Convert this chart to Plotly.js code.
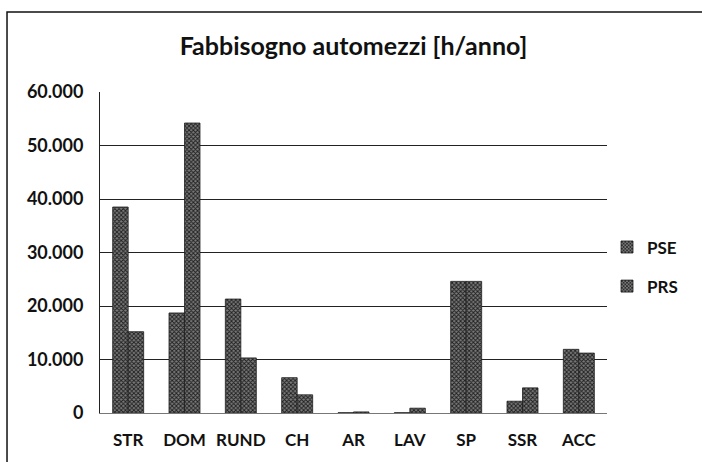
<!DOCTYPE html>
<html>
<head>
<meta charset="utf-8">
<script src="https://cdn.plot.ly/plotly-3.0.1.min.js"></script>
<style>
  html, body { margin: 0; padding: 0; background: #ffffff; }
  #chart { width: 702px; height: 462px; }
</style>
</head>
<body>
<div id="chart"></div>
<script>
const categories = ["STR", "DOM", "RUND", "CH", "AR", "LAV", "SP", "SSR", "ACC"];
const pseValues = [38500, 18700, 21300, 6600, 50, 50, 24600, 2200, 11900];
const prsValues = [15200, 54200, 10300, 3400, 200, 900, 24600, 4700, 11200];
const yTickVals = [0, 10000, 20000, 30000, 40000, 50000, 60000];
const seriesNames = ["PSE", "PRS"];

const FONT = "Lato, 'Open Sans', 'DejaVu Sans', sans-serif";

function barTrace(name, values, group) {
  return {
    type: "bar",
    name: name,
    x: categories,
    y: values,
    legendgroup: group,
    marker: {
      color: "#6a6a6a",
      line: { color: "#1e1e1e", width: 0.8 },
      pattern: { shape: "x", fgcolor: "#1e1e1e", bgcolor: "#7a7a7a", size: 3, solidity: 0.5 }
    },
    hoverinfo: "x+y+name"
  };
}

const data = [
  barTrace(seriesNames[0], pseValues, "g1"),
  barTrace(seriesNames[1], prsValues, "g2")
];

const layout = {
  width: 702,
  height: 462,
  margin: { l: 100, r: 95, t: 92, b: 49, pad: 0 },
  paper_bgcolor: "#ffffff",
  plot_bgcolor: "#ffffff",
  separators: ",.",
  font: { family: FONT, size: 16, color: "#111111" },
  title: {
    text: "<b>Fabbisogno automezzi [h/anno]</b>",
    font: { family: FONT, size: 25, color: "#111111" },
    x: 0.5, xref: "paper", xanchor: "center",
    y: 46, yref: "container", yanchor: "middle"
  },
  barmode: "group",
  bargap: 0.45,
  bargroupgap: 0,
  xaxis: {
    type: "category",
    tickfont: { family: FONT, size: 17, color: "#111111", weight: "bold" },
    showgrid: false,
    showline: true,
    linecolor: "#777777",
    linewidth: 1,
    ticks: "",
    ticklabelstandoff: 12,
    zeroline: false
  },
  yaxis: {
    range: [0, 60000],
    tickvals: yTickVals,
    tickformat: ",d",
    tickfont: { family: FONT, size: 18, color: "#111111", weight: "bold" },
    showgrid: true,
    gridcolor: "#222222",
    gridwidth: 1,
    showline: true,
    linecolor: "#222222",
    linewidth: 1,
    ticks: "",
    ticklabelstandoff: 12,
    zeroline: false
  },
  legend: {
    x: 1.0, xanchor: "left", xref: "paper",
    y: 0.455, yanchor: "middle",
    font: { family: FONT, size: 17, color: "#111111", weight: "bold" },
    traceorder: "grouped",
    tracegroupgap: 14,
    itemwidth: 30,
    bgcolor: "rgba(0,0,0,0)"
  },
  shapes: [
    {
      type: "rect", xref: "paper", yref: "paper",
      x0: -0.1834, x1: 1.2, y0: -0.17, y1: 1.249,
      line: { color: "#111111", width: 1.5 },
      fillcolor: "rgba(0,0,0,0)",
      layer: "below"
    }
  ]
};

Plotly.newPlot("chart", data, layout, { displayModeBar: false, staticPlot: true });
</script>
</body>
</html>
